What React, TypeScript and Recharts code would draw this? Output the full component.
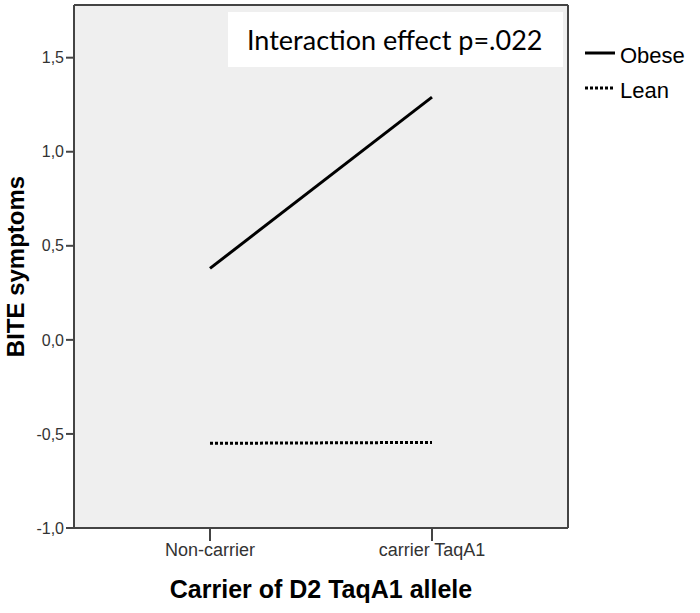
import React from "react";
import { LineChart, Line, XAxis, YAxis, CartesianGrid, Legend } from "recharts";

const groups = ["Non-carrier", "carrier TaqA1"];
const obese = [0.38, 1.29];
const lean = [-0.55, -0.545];
const yTicks = [-1, -0.5, 0, 0.5, 1, 1.5];
const yDomain = [-1, 1.78];
const seriesOrder = ["Obese", "Lean"];
const note = "Interaction effect p=.022";

const data = groups.map((g, i) => ({ group: g, Obese: obese[i], Lean: lean[i] }));

const fmt = (v: number) => v.toFixed(1).replace(".", ",");

const border = "#444";
const font = "'Liberation Sans', Arial, sans-serif";

// frame around the plot area: only its edges
const frameH = ({ offset }: any) => [offset.top, offset.top + offset.height];
const frameV = ({ offset }: any) => [offset.left, offset.left + offset.width];

const renderLegend = (props: any) => {
  const items = [...(props.payload || [])].sort(
    (a: any, b: any) => seriesOrder.indexOf(a.value) - seriesOrder.indexOf(b.value)
  );
  return (
    <div style={{ fontFamily: font, fontSize: 22, color: "#000" }}>
      {items.map((it: any) => (
        <div key={it.value} style={{ display: "flex", alignItems: "center", height: 35 }}>
          <svg width={32} height={12} style={{ marginRight: 4, marginTop: -6 }}>
            <line
              x1={1}
              x2={31}
              y1={6}
              y2={6}
              stroke="#000"
              strokeWidth={3}
              strokeDasharray={it.payload?.strokeDasharray}
            />
          </svg>
          <span>{it.value}</span>
        </div>
      ))}
    </div>
  );
};

export default function App() {
  return (
    <div style={{ position: "absolute", left: 0, top: 0, width: 700, height: 613, background: "#fff" }}>
      <LineChart width={700} height={613} data={data} margin={{ top: 5, right: 132, bottom: 10, left: 0 }}>
        <CartesianGrid
          fill="#efefef"
          stroke={border}
          strokeWidth={2}
          horizontalCoordinatesGenerator={frameH}
          verticalCoordinatesGenerator={frameV}
        />
        <XAxis
          dataKey="group"
          padding={{ left: 136, right: 136 }}
          interval={0}
          height={75}
          tickSize={13}
          axisLine={{ stroke: border, strokeWidth: 2 }}
          tickLine={{ stroke: border, strokeWidth: 2 }}
          tick={{ fontSize: 18, fill: "#333", fontFamily: font }}
          label={{
            value: "Carrier of D2 TaqA1 allele",
            position: "insideBottom",
            offset: 5,
            style: { fontSize: 25, fontWeight: "bold", fill: "#000", fontFamily: font },
          }}
        />
        <YAxis
          domain={yDomain}
          ticks={yTicks}
          allowDataOverflow
          tickFormatter={fmt}
          width={74}
          tickSize={8}
          axisLine={{ stroke: border, strokeWidth: 2 }}
          tickLine={{ stroke: border, strokeWidth: 2 }}
          tick={{ fontSize: 16, fill: "#333", fontFamily: font }}
          label={{
            value: "BITE symptoms",
            content: (p: any) => {
              const vb = p.viewBox || {};
              const cy = (vb.y || 0) + (vb.height || 0) / 2;
              return (
                <text
                  x={24}
                  y={cy}
                  transform={`rotate(-90, 24, ${cy})`}
                  textAnchor="middle"
                  style={{ fontSize: 24, fontWeight: "bold", fill: "#000", fontFamily: font }}
                >
                  BITE symptoms
                </text>
              );
            },
          }}
        />
        <Legend
          layout="vertical"
          align="center"
          verticalAlign="middle"
          content={renderLegend}
          wrapperStyle={{ left: 584, top: 38, width: 116 }}
        />
        <Line
          dataKey="Obese"
          stroke="#000"
          strokeWidth={3}
          dot={false}
          activeDot={false}
          isAnimationActive={false}
        />
        <Line
          dataKey="Lean"
          stroke="#000"
          strokeWidth={3}
          strokeDasharray="3 2"
          dot={false}
          activeDot={false}
          isAnimationActive={false}
        />
      </LineChart>
      <div
        style={{
          position: "absolute",
          left: 228,
          top: 12,
          width: 335,
          height: 55,
          background: "#fff",
          fontFamily: "Lato, 'Open Sans', sans-serif",
          fontSize: 27,
          lineHeight: "55px",
          paddingLeft: 19,
          boxSizing: "border-box",
          color: "#000",
          whiteSpace: "nowrap",
        }}
      >
        {note}
      </div>
    </div>
  );
}
